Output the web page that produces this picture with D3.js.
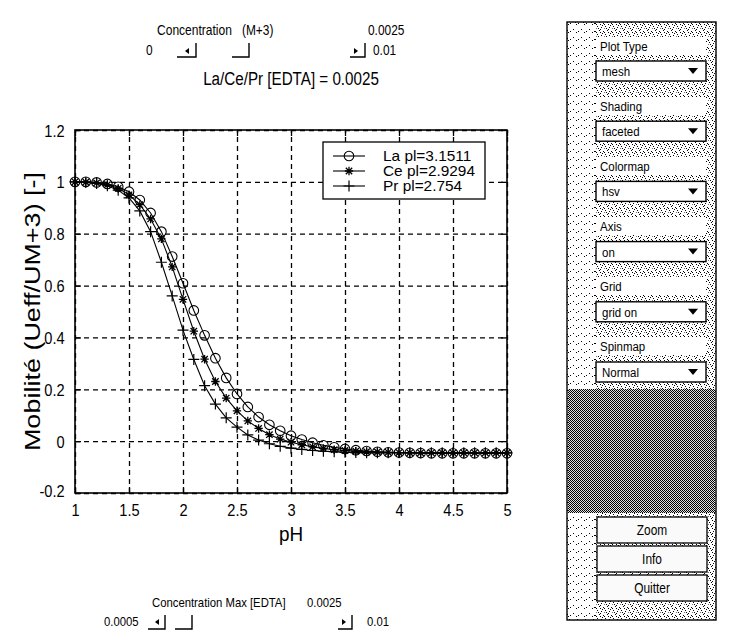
<!DOCTYPE html>
<html><head><meta charset="utf-8">
<script src="https://cdn.jsdelivr.net/npm/d3@7"></script>
<style>
body{margin:0;background:#fff}
svg{display:block}
text{font-family:"Liberation Sans",Arial,Helvetica,sans-serif;fill:#000}
</style>
</head><body>
<svg id="c" width="733" height="632"></svg>
<script>
// ---------------- data ----------------
const pH = [1.0,1.1,1.2,1.3,1.4,1.5,1.6,1.7,1.8,1.9,2.0,2.1,2.2,2.3,2.4,2.5,2.6,2.7,2.8,2.9,
            3.0,3.1,3.2,3.3,3.4,3.5,3.6,3.7,3.8,3.9,4.0,4.1,4.2,4.3,4.4,4.5,4.6,4.7,4.8,4.9,5.0];
const laValues = [1.000,1.000,0.998,0.992,0.981,0.962,0.930,0.880,0.808,0.712,0.609,0.504,0.408,0.320,0.244,0.182,0.132,0.093,0.063,0.040,
                  0.021,0.006,-0.006,-0.016,-0.024,-0.030,-0.035,-0.038,-0.041,-0.043,-0.044,-0.045,-0.046,-0.047,-0.047,-0.047,-0.047,-0.047,-0.047,-0.047,-0.047];
const ceValues = [1.000,0.999,0.996,0.989,0.975,0.950,0.912,0.857,0.780,0.672,0.547,0.424,0.316,0.230,0.166,0.117,0.078,0.049,0.025,0.008,
                  -0.004,-0.014,-0.022,-0.028,-0.033,-0.036,-0.039,-0.041,-0.042,-0.043,-0.044,-0.045,-0.045,-0.045,-0.045,-0.045,-0.045,-0.045,-0.045,-0.045,-0.045];
const prValues = [1.000,0.998,0.994,0.985,0.968,0.938,0.888,0.808,0.690,0.560,0.428,0.315,0.214,0.143,0.090,0.054,0.024,0.004,-0.010,-0.020,
                  -0.027,-0.032,-0.036,-0.039,-0.041,-0.043,-0.044,-0.045,-0.045,-0.045,-0.045,-0.045,-0.045,-0.045,-0.045,-0.045,-0.045,-0.045,-0.045,-0.045,-0.045];
const seriesNames = ["La pl=3.1511","Ce pl=2.9294","Pr pl=2.754"];
const markerTypes = ["circle","star","plus"];
const xTicks = [1,1.5,2,2.5,3,3.5,4,4.5,5];
const yTicks = [-0.2,0,0.2,0.4,0.6,0.8,1,1.2];
const titleText = "La/Ce/Pr [EDTA] = 0.0025";
const xLabel = "pH";
const yLabel = "Mobilité (Ueff/UM+3) [-]";
const panelLabels = ["Plot Type","Shading","Colormap","Axis","Grid","Spinmap"];
const panelValues = ["mesh","faceted","hsv","on","grid on","Normal"];
const panelButtons = ["Zoom","Info","Quitter"];
const topSlider = {label:"Concentration", unit:"(M+3)", value:"0.0025", min:"0", max:"0.01"};
const botSlider = {label:"Concentration Max [EDTA]", value:"0.0025", min:"0.0005", max:"0.01"};

// ---------------- drawing ----------------
const svg = d3.select("#c");
const L = 75, R = 507, T = 130, B = 493;
const x = d3.scaleLinear().domain([1,5]).range([L,R]);
const y = d3.scaleLinear().domain([-0.2,1.2]).range([B,T]);
const fmt = d => String(d);

const defs = svg.append("defs");
function speck(id, dots, bg, size){
  const p = defs.append("pattern").attr("id",id).attr("width",size).attr("height",size).attr("patternUnits","userSpaceOnUse");
  p.append("rect").attr("width",size).attr("height",size).attr("fill",bg);
  dots.forEach(d=>p.append("rect").attr("x",d[0]).attr("y",d[1]).attr("width",1).attr("height",1).attr("fill",d[2]||"#000"));
}
speck("spkLight", [[0,0],[5,5],[2,7]], "#ffffff", 8);
speck("spkMid", [[0,0],[2,1],[1,3],[0,5],[4,0],[5,2],[6,4],[7,6],[3,7],[4,4,"#777"]], "#ffffff", 8);
speck("spkDark", [[0,0],[1,1],[2,0],[3,1],[0,2],[2,2],[1,3],[3,3],[4,0],[5,1],[6,0],[7,1],[4,2],[6,2],[5,3],[7,3],
  [0,4],[1,5],[2,4],[3,5],[0,6],[2,6],[1,7],[3,7],[4,4],[6,4],[5,5],[7,5],[4,6],[6,6],[5,7],[7,7]], "#e0e0e0", 8);

function txt(g, s, px, py, size, anchor, sx, weight){
  return g.append("text")
    .attr("transform",`translate(${px},${py}) scale(${sx},1)`)
    .attr("text-anchor",anchor||"start")
    .attr("font-size",size)
    .attr("font-weight",weight||"normal")
    .text(s);
}

// grid
const grid = svg.append("g").attr("class","grid");
grid.append("g").attr("transform",`translate(0,${B})`)
  .call(d3.axisBottom(x).tickValues(xTicks).tickSize(-(B-T)).tickFormat(""))
  .call(g=>g.select(".domain").remove());
grid.append("g").attr("transform",`translate(${L},0)`)
  .call(d3.axisLeft(y).tickValues(yTicks).tickSize(-(R-L)).tickFormat(""))
  .call(g=>g.select(".domain").remove());
grid.selectAll("line").attr("stroke","#000").attr("stroke-width",1.3).attr("stroke-dasharray","5,4");

// inner ticks on all four sides
const tickLen = 6;
[[d3.axisBottom(x).tickValues(xTicks), `translate(0,${B})`],
 [d3.axisTop(x).tickValues(xTicks), `translate(0,${T})`],
 [d3.axisLeft(y).tickValues(yTicks), `translate(${L},0)`],
 [d3.axisRight(y).tickValues(yTicks), `translate(${R},0)`]].forEach(([ax,tr])=>{
  svg.append("g").attr("transform",tr).call(ax.tickSize(-tickLen).tickFormat(""))
    .call(g=>g.select(".domain").remove()).selectAll("line").attr("stroke","#000").attr("stroke-width",1.3);
});

// frame
svg.append("rect").attr("x",L).attr("y",T).attr("width",R-L).attr("height",B-T)
  .attr("fill","none").attr("stroke","#000").attr("stroke-width",1.6);

// tick labels
const xl = svg.append("g").attr("transform",`translate(0,${B})`)
  .call(d3.axisBottom(x).tickValues(xTicks).tickSize(0).tickPadding(0).tickFormat(fmt));
xl.select(".domain").remove();
xl.selectAll("text").attr("font-size",17).attr("y",23).attr("dy",null)
  .attr("transform","scale(0.86,1)").attr("font-family","Liberation Sans, Arial, sans-serif").attr("fill","#000");
const yl = svg.append("g").attr("transform",`translate(${L},0)`)
  .call(d3.axisLeft(y).tickValues(yTicks).tickSize(0).tickPadding(0).tickFormat(fmt));
yl.select(".domain").remove();
yl.selectAll("text").attr("font-size",17).attr("x",-12).attr("dy","0.36em")
  .attr("transform","scale(0.86,1)").attr("font-family","Liberation Sans, Arial, sans-serif").attr("fill","#000");
yl.selectAll("text").filter(d=>d===-0.2).attr("dy","0.2em");

// series
const series = [laValues, ceValues, prValues];
const line = d3.line().x((d,i)=>x(pH[i])).y(d=>y(d));
const plot = svg.append("g");
function drawMarker(g, type, cx, cy){
  if(type==="circle"){
    g.append("circle").attr("cx",cx).attr("cy",cy).attr("r",4.8).attr("fill","none").attr("stroke","#000").attr("stroke-width",1.1);
  } else if(type==="star"){
    const s=4.2, d=3.2;
    g.append("path").attr("d",`M${cx-s},${cy}H${cx+s}M${cx},${cy-s}V${cy+s}M${cx-d},${cy-d}L${cx+d},${cy+d}M${cx-d},${cy+d}L${cx+d},${cy-d}`)
      .attr("stroke","#000").attr("stroke-width",1.3).attr("fill","none");
  } else {
    const s=5.5;
    g.append("path").attr("d",`M${cx-s},${cy}H${cx+s}M${cx},${cy-s}V${cy+s}`)
      .attr("stroke","#000").attr("stroke-width",1.2).attr("fill","none");
  }
}
series.forEach((vals,k)=>{
  plot.append("path").datum(vals).attr("d",line).attr("fill","none").attr("stroke","#000").attr("stroke-width",1.1);
  vals.forEach((v,i)=>drawMarker(plot, markerTypes[k], x(pH[i]), y(v)));
});

// legend
const lg = svg.append("g");
lg.append("rect").attr("x",323).attr("y",142).attr("width",162).attr("height",57)
  .attr("fill","#fff").attr("stroke","#000").attr("stroke-width",1.3);
seriesNames.forEach((n,k)=>{
  const ry = 156 + k*15;
  lg.append("line").attr("x1",333).attr("x2",365).attr("y1",ry).attr("y2",ry).attr("stroke","#000").attr("stroke-width",1.1);
  drawMarker(lg, markerTypes[k], 349, ry);
  txt(lg, n, 383, ry+5, 14, "start", 1.1);
});

// title & axis labels
txt(svg, titleText, (L+R)/2, 85, 19, "middle", 0.8);
txt(svg, xLabel, (L+R)/2, 541, 21, "middle", 0.9);
svg.append("text").attr("transform",`translate(40,${(T+B)/2}) scale(0.85,1) rotate(-90)`)
  .attr("text-anchor","middle").attr("font-size",27).text(yLabel);

// top slider
const ts = svg.append("g");
txt(ts, topSlider.label, 157, 35, 14, "start", 0.86);
txt(ts, topSlider.unit, 242, 35, 14, "start", 0.85);
txt(ts, topSlider.value, 368, 35, 14, "start", 0.85);
txt(ts, topSlider.min, 146, 55, 14, "start", 0.85);
txt(ts, topSlider.max, 373, 55, 14, "start", 0.85);
function bracket(g, x0, x1, y0, y1){
  g.append("path").attr("d",`M${x0},${y1}H${x1}V${y0}`).attr("fill","none").attr("stroke","#000").attr("stroke-width",1.4);
}
function arrow(g, cx, cy, dir){
  g.append("path").attr("d", dir<0 ? `M${cx+2},${cy-3}L${cx-2},${cy}L${cx+2},${cy+3}Z` : `M${cx-2},${cy-3}L${cx+2},${cy}L${cx-2},${cy+3}Z`).attr("fill","#000");
}
bracket(ts,177,196,43,57); arrow(ts,187,51,-1);
bracket(ts,232,249,43,57);
bracket(ts,350,365,43,57); arrow(ts,356,51,1);

// bottom slider
const bs = svg.append("g");
txt(bs, botSlider.label, 152, 607, 13, "start", 0.87);
txt(bs, botSlider.value, 307, 607, 13, "start", 0.87);
txt(bs, botSlider.min, 104, 626, 13, "start", 0.87);
txt(bs, botSlider.max, 367, 626, 13, "start", 0.87);
bracket(bs,148,165,615,629); arrow(bs,157,622,-1);
bracket(bs,175,192,615,629);
bracket(bs,338,352,615,629); arrow(bs,344,622,1);

// right control panel
const pn = svg.append("g");
pn.append("rect").attr("x",567).attr("y",22).attr("width",149).attr("height",598)
  .attr("fill","url(#spkMid)").attr("stroke","#000").attr("stroke-width",1.4);
pn.append("rect").attr("x",568).attr("y",23).attr("width",27).attr("height",596).attr("fill","url(#spkLight)");
pn.append("rect").attr("x",568).attr("y",389).attr("width",147).attr("height",124).attr("fill","url(#spkDark)");
panelLabels.forEach((lab,i)=>{
  const ly = 46 + i*60, py = 71 + i*60.2;
  pn.append("rect").attr("x",596).attr("y",ly-9).attr("width",110).attr("height",18).attr("fill","#fff");
  txt(pn, lab, 600, ly+5, 13.5, "start", 0.85);
  pn.append("rect").attr("x",596).attr("y",py-10).attr("width",110).attr("height",20)
    .attr("fill","#fff").attr("stroke","#000").attr("stroke-width",1.4);
  txt(pn, panelValues[i], 602, py+5, 13.5, "start", 0.85);
  pn.append("path").attr("d",`M${688},${py-3}L${698},${py-3}L${693},${py+3}Z`).attr("fill","#000");
});
panelButtons.forEach((b,i)=>{
  const cy = 530 + i*29;
  pn.append("rect").attr("x",597).attr("y",cy-13).attr("width",110).attr("height",26)
    .attr("fill","#fafafa").attr("stroke","#000").attr("stroke-width",1.3);
  txt(pn, b, 652, cy+5, 14, "middle", 0.85);
});
</script>
</body></html>
